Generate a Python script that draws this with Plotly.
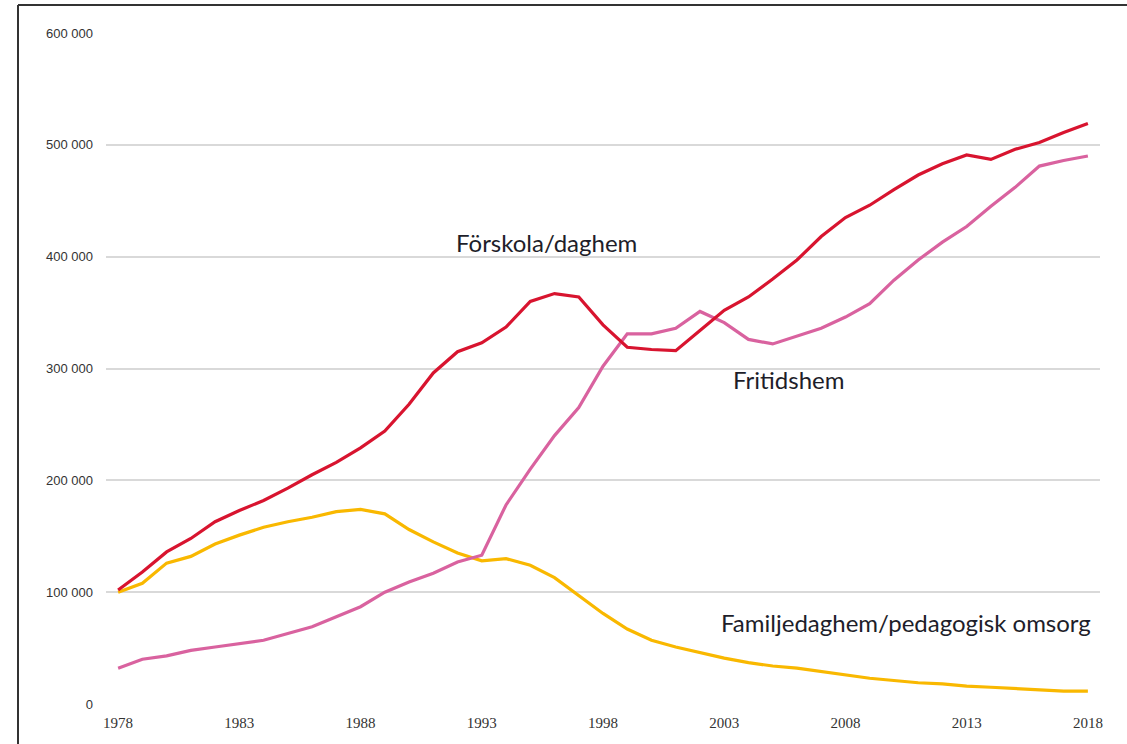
import plotly.graph_objects as go

years = list(range(1978, 2019))

forskola = [102000, 118000, 136000, 148000, 163000, 173000, 182000, 193000, 205000, 216000,
            229000, 244000, 268000, 296000, 315000, 323000, 337000, 360000, 367000, 364000,
            339000, 319000, 317000, 316000, 334000, 352000, 364000, 380000, 397000, 418000,
            435000, 446000, 460000, 473000, 483000, 491000, 487000, 496000, 502000, 511000,
            519000]

fritidshem = [32000, 40000, 43000, 48000, 51000, 54000, 57000, 63000, 69000, 78000,
              87000, 100000, 109000, 117000, 127000, 133000, 178000, 210000, 240000, 265000,
              302000, 331000, 331000, 336000, 351000, 341000, 326000, 322000, 329000, 336000,
              346000, 358000, 379000, 397000, 413000, 427000, 445000, 462000, 481000, 486000,
              490000]

familjedaghem = [100000, 108000, 126000, 132000, 143000, 151000, 158000, 163000, 167000, 172000,
                 174000, 170000, 156000, 145000, 135000, 128000, 130000, 124000, 113000, 97000,
                 81000, 67000, 57000, 51000, 46000, 41000, 37000, 34000, 32000, 29000,
                 26000, 23000, 21000, 19000, 18000, 16000, 15000, 14000, 13000, 11500,
                 11500]

x_tickvals = [1978, 1983, 1988, 1993, 1998, 2003, 2008, 2013, 2018]
y_tickvals = [0, 100000, 200000, 300000, 400000, 500000, 600000]
y_ticktext = ["0", "100 000", "200 000", "300 000", "400 000", "500 000", "600 000"]

labels = ["Förskola/daghem", "Fritidshem", "Familjedaghem/pedagogisk omsorg"]
label_x = [1995.65, 2005.67, 2010.5]
label_y = [413000, 290000, 73000]

fig = go.Figure()
fig.add_trace(go.Scatter(x=years, y=familjedaghem, mode="lines",
                         line=dict(color="#f9b800", width=3.2), name=labels[2]))
fig.add_trace(go.Scatter(x=years, y=fritidshem, mode="lines",
                         line=dict(color="#d9629f", width=3.2), name=labels[1]))
fig.add_trace(go.Scatter(x=years, y=forskola, mode="lines",
                         line=dict(color="#d8142f", width=3.2), name=labels[0]))

for t, xx, yy in zip(labels, label_x, label_y):
    fig.add_annotation(x=xx, y=yy, text=t, showarrow=False,
                       font=dict(family="Lato", size=24, color="#1e1e2a"),
                       xanchor="center", yanchor="middle")

# partial frame (left and top edges visible in the reference)
fig.add_shape(type="line", xref="paper", yref="paper",
              x0=(18 - 106) / 994, x1=(18 - 106) / 994,
              y0=-0.1, y1=(704 - 5) / 671, line=dict(color="#333333", width=2))
fig.add_shape(type="line", xref="paper", yref="paper",
              x0=(18 - 106) / 994, x1=1.1,
              y0=(704 - 5) / 671, y1=(704 - 5) / 671, line=dict(color="#333333", width=2))

fig.update_layout(
    width=1127, height=744,
    margin=dict(l=106, r=27, t=33, b=40),
    paper_bgcolor="white", plot_bgcolor="white",
    showlegend=False,
    xaxis=dict(range=[1977.5, 2018.5], tickvals=x_tickvals, showgrid=False,
               zeroline=False, showline=False, ticks="", ticklabelstandoff=8,
               tickfont=dict(family="Liberation Serif", size=15, color="#333333")),
    yaxis=dict(range=[0, 600000], tickvals=y_tickvals, ticktext=y_ticktext,
               showgrid=True, gridcolor="#d9d9d9", gridwidth=1.5,
               zeroline=False, showline=False, ticks="", ticklabelstandoff=12,
               tickfont=dict(family="Liberation Sans", size=13, color="#333333")),
)

fig.write_html("out.html", config={"displayModeBar": False},
               post_script="document.body.style.margin='0';document.body.style.overflow='hidden';")
